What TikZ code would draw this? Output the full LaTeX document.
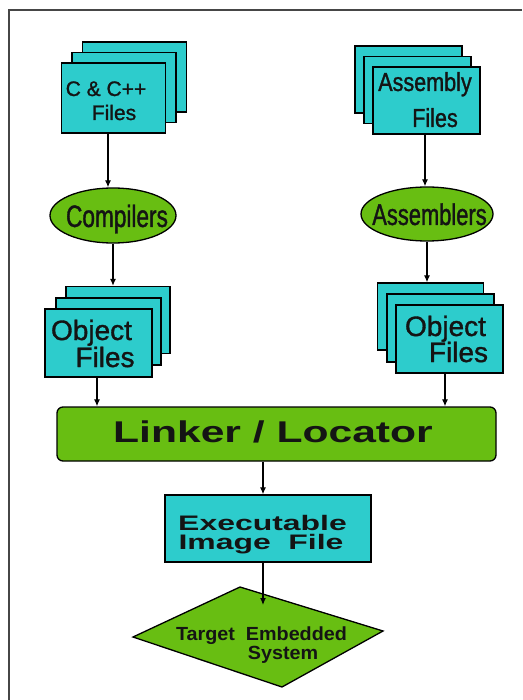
\documentclass[tikz,border=0pt]{standalone}
\usepackage{fontspec}
\setmainfont{Liberation Sans}[FakeBold=1.2]
\newfontfamily\fplain[FakeBold=1.2]{Liberation Sans}
\newfontfamily\fnarrow[FakeStretch=0.83,FakeBold=1.2]{Liberation Sans}
\newfontfamily\fcond[FakeStretch=0.73,FakeBold=1.2]{Liberation Sans}
\newfontfamily\fwide[FakeStretch=1.42]{Liberation Sans}
\newfontfamily\fwider[FakeStretch=1.52]{Liberation Sans}
\newfontfamily\fdia[FakeStretch=1.04]{Liberation Sans}
\usetikzlibrary{arrows.meta,shapes.geometric}

\definecolor{sheetcyan}{RGB}{45,204,204}
\definecolor{leafgreen}{RGB}{104,190,18}
\definecolor{framegray}{RGB}{70,70,70}
\definecolor{inkdark}{RGB}{20,20,20}

\begin{document}
\begin{tikzpicture}[x=1pt,y=-1pt,
  sheet/.style={draw=black,line width=1.3pt,fill=sheetcyan,inner sep=0pt},
  blob/.style={ellipse,draw=black,line width=1.3pt,fill=leafgreen,inner sep=0pt},
  bar/.style={draw=black,line width=1.3pt,fill=leafgreen,rounded corners=6pt,inner sep=0pt},
  lbl/.style={inner sep=0pt,anchor=base,text=inkdark},
  flow/.style={draw=black,line width=1.2pt,-{Latex[length=7pt,width=6pt]}},
  frame/.style={draw=framegray,line width=1.8pt}]

\useasboundingbox (0,0) rectangle (522,700);
\fill[white] (0,0) rectangle (522,700);

% page frame (only the top and left edges are visible)
\draw[frame] (9,700) -- (9,10) -- (522,10);

% ---- C & C++ source stack ----
\node[sheet,minimum width=104pt,minimum height=70pt] (cppB) at (134.5,77) {};
\node[sheet,minimum width=104pt,minimum height=70pt] (cppM) at (124,87.5) {};
\node[sheet,minimum width=104pt,minimum height=70pt] (cpp)  at (113.5,98) {};
\node[lbl,font=\fplain\fontsize{21}{24}\selectfont] (cpp-l1) at (106,96) {C \& C++};
\node[lbl,font=\fplain\fontsize{21}{24}\selectfont] (cpp-l2) at (114,120) {Files};

% ---- Assembly source stack ----
\node[sheet,minimum width=107pt,minimum height=67pt] (asmB) at (408.5,79.5) {};
\node[sheet,minimum width=107pt,minimum height=67pt] (asmM) at (417.5,90) {};
\node[sheet,minimum width=107pt,minimum height=67pt] (asm)  at (426.5,100.5) {};
\node[lbl,font=\fnarrow\fontsize{26}{30}\selectfont] (asm-l1) at (425,91) {Assembly};
\node[lbl,font=\fnarrow\fontsize{26}{30}\selectfont] (asm-l2) at (435,127) {Files};

% ---- translators ----
\node[blob,minimum width=126pt,minimum height=55pt] (comp) at (113,215.5) {};
\node[lbl,font=\fcond\fontsize{31}{34}\selectfont] (comp-l) at (117,227) {Compilers};
\node[blob,minimum width=132pt,minimum height=54pt] (asmblr) at (427,214) {};
\node[lbl,font=\fcond\fontsize{30}{34}\selectfont] (asmblr-l) at (429.5,225) {Assemblers};

% ---- object file stacks ----
\node[sheet,minimum width=104pt,minimum height=67pt] (lobjB) at (118,320) {};
\node[sheet,minimum width=105pt,minimum height=67pt] (lobjM) at (108.5,331.5) {};
\node[sheet,minimum width=107pt,minimum height=68pt] (lobj)  at (98.5,343) {};
\node[lbl,font=\fplain\fontsize{28}{27}\selectfont] (lobj-l1) at (91.5,340) {Object};
\node[lbl,font=\fplain\fontsize{28}{27}\selectfont] (lobj-l2) at (105,367) {Files};

\node[sheet,minimum width=106pt,minimum height=67pt] (robjB) at (430.5,316.5) {};
\node[sheet,minimum width=107pt,minimum height=68pt] (robjM) at (440.5,328) {};
\node[sheet,minimum width=107pt,minimum height=68pt] (robj)  at (449.5,339) {};
\node[lbl,font=\fplain\fontsize{28}{27}\selectfont] (robj-l1) at (445.5,336) {Object};
\node[lbl,font=\fplain\fontsize{28}{27}\selectfont] (robj-l2) at (458.5,362) {Files};

% ---- linker ----
\node[bar,minimum width=439pt,minimum height=54pt] (linker) at (276.5,434) {};
\node[lbl,font=\fwide\bfseries\fontsize{30}{34}\selectfont] (linker-l) at (273,442) {Linker / Locator};

% ---- executable image ----
\node[sheet,minimum width=206pt,minimum height=67pt] (exec) at (268,528.5) {};
\node[lbl,font=\fwider\bfseries\fontsize{21}{24}\selectfont] (exec-l1) at (262.5,530) {Executable};
\node[lbl,font=\fwider\bfseries\fontsize{21}{24}\selectfont] (exec-l2) at (261,549) {Image\ \ File};

% ---- target system (tilted rhombus) ----
\coordinate (dT) at (240,587);
\coordinate (dR) at (383,631);
\coordinate (dB) at (282,687);
\coordinate (dL) at (133,637);
\draw[line width=1.3pt,fill=leafgreen] (dT) -- (dR) -- (dB) -- (dL) -- cycle;
\node[lbl,font=\fdia\bfseries\fontsize{19}{22}\selectfont] (tgt-l1) at (261.5,640) {Target\ \ Embedded};
\node[lbl,font=\fdia\bfseries\fontsize{19}{22}\selectfont] (tgt-l2) at (283,659) {System};
\coordinate (tip) at (263,605);

% ---- connectors ----
\draw[flow] ([xshift=-5.5pt]cpp.south) -- ([xshift=-5.5pt]cpp.south |- comp.north);
\draw[flow] (comp.south) -- (comp.south |- lobjB.north);
\draw[flow] ([xshift=-1.5pt]asm.south) -- ([xshift=-1.5pt]asm.south |- asmblr.north);
\draw[flow] (asmblr.south) -- (asmblr.south |- robjB.north);
\draw[flow] ([xshift=-1.5pt]lobj.south) -- ([xshift=-1.5pt]lobj.south |- linker.north);
\draw[flow] ([xshift=-4.5pt]robj.south) -- ([xshift=-4.5pt]robj.south |- linker.north);
\draw[flow] (linker.south -| tip) -- (exec.north -| tip);
\draw[flow] (exec.south -| tip) -- (tip);

\end{tikzpicture}
\end{document}
